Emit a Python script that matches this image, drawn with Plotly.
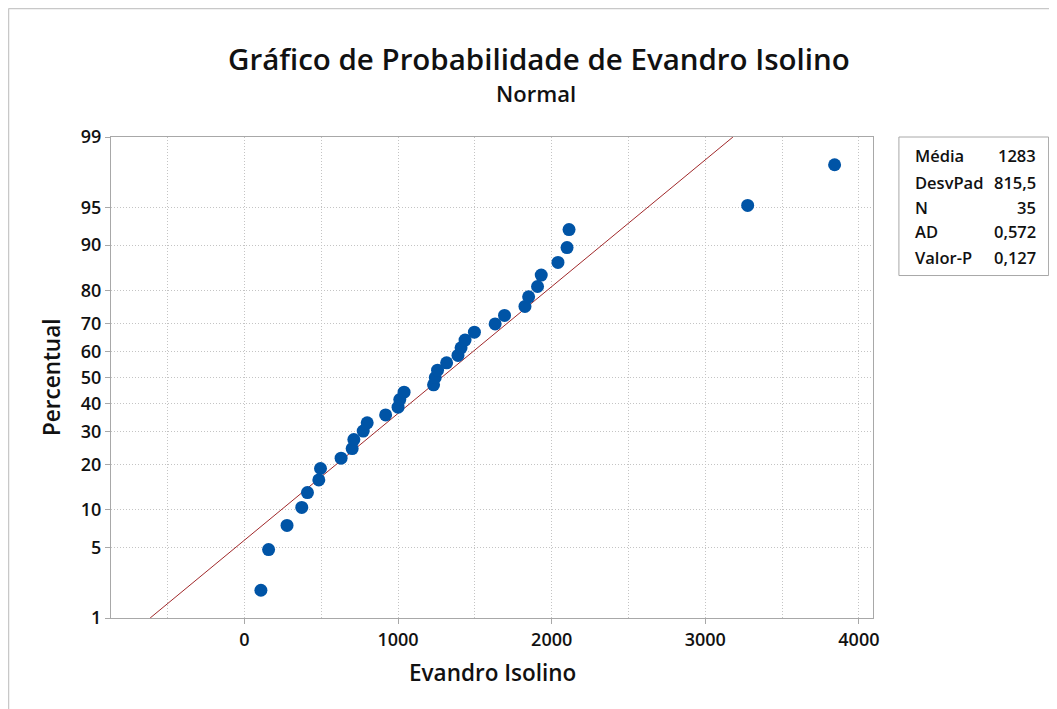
import plotly.graph_objects as go
from statistics import NormalDist

# valores (ordenados)
valores = [107, 157, 277, 373, 410, 484, 495, 629, 701, 712, 773, 799, 919, 1000, 1011,
           1039, 1231, 1242, 1257, 1316, 1390, 1410, 1436, 1497, 1632, 1693, 1826, 1850,
           1908, 1932, 2041, 2100, 2113, 3276, 3842]
# posições percentuais dos pontos
percentuais = [1.98, 4.80, 7.63, 10.45, 13.28, 16.10, 18.93, 21.75, 24.58, 27.40, 30.23,
               33.05, 35.88, 38.70, 41.53, 44.35, 47.18, 50.00, 52.82, 55.65, 58.47, 61.30,
               64.12, 66.95, 69.77, 72.60, 75.42, 78.25, 81.07, 83.90, 86.72, 89.55, 92.37,
               95.20, 98.02]

media = 1283
desvpad = 815.5
stat_nomes = ['Média', 'DesvPad', 'N', 'AD', 'Valor-P']
stat_valores = ['1283', '815,5', '35', '0,572', '0,127']

y_ticks = [1, 5, 10, 20, 30, 40, 50, 60, 70, 80, 90, 95, 99]
x_ticks = [0, 1000, 2000, 3000, 4000]

nd = NormalDist()
def z(p):
    return nd.inv_cdf(p / 100.0)

z_min, z_max = z(1), z(99)

fig = go.Figure()

# reta ajustada
fig.add_trace(go.Scatter(
    x=[media + desvpad * z_min, media + desvpad * z_max],
    y=[z_min, z_max],
    mode='lines', line=dict(color='#A0282A', width=1),
    hoverinfo='skip', showlegend=False))

fig.add_trace(go.Scatter(
    x=valores, y=[z(p) for p in percentuais],
    mode='markers', marker=dict(color='#0054A6', size=13),
    showlegend=False))

font = 'Open Sans, Noto Sans, sans-serif'
cor = '#111111'
pontilhado = '1px,2px'
grid = dict(showgrid=True, gridcolor='#c4c4c4', griddash=pontilhado, gridwidth=1)

fig.update_layout(
    width=1057, height=709,
    margin=dict(l=103, r=192, t=129, b=99),
    paper_bgcolor='white', plot_bgcolor='white',
    font=dict(family=font, color=cor),
    xaxis=dict(
        range=[-869, 4092], tickvals=x_ticks, ticktext=[str(v) for v in x_ticks],
        ticks='outside', ticklen=5, tickcolor='#a8a8a8',
        tickfont=dict(size=18, family=font, weight=600, color=cor),
        minor=dict(dtick=500, tick0=0, showgrid=True, gridcolor='#c4c4c4', griddash=pontilhado),
        showline=True, linecolor='#a8a8a8', linewidth=1, mirror=True, zeroline=False,
        **grid),
    yaxis=dict(
        range=[z_min, z_max], tickvals=[z(v) for v in y_ticks],
        ticktext=[str(v) for v in y_ticks],
        ticks='outside', ticklen=5, tickcolor='#a8a8a8',
        tickfont=dict(size=18, family=font, weight=600, color=cor),
        showline=True, linecolor='#a8a8a8', linewidth=1, mirror=True, zeroline=False,
        **grid),
)

# títulos
fig.add_annotation(xref='paper', yref='paper', x=0.5617, y=1.164,
                   text='Gráfico de Probabilidade de Evandro Isolino', showarrow=False,
                   xanchor='center', yanchor='middle',
                   font=dict(size=29.5, family=font, weight=600, color=cor))
fig.add_annotation(xref='paper', yref='paper', x=0.558, y=1.0915, text='Normal',
                   showarrow=False, xanchor='center', yanchor='middle',
                   font=dict(size=22, family=font, weight=600, color=cor))
fig.add_annotation(xref='paper', yref='paper', x=0.5, y=-0.1143, text='Evandro Isolino',
                   showarrow=False, xanchor='center', yanchor='middle',
                   font=dict(size=22.5, family=font, weight=600, color=cor))
fig.add_annotation(xref='paper', yref='paper', x=-0.0774, y=0.499, text='Percentual',
                   showarrow=False, xanchor='center', yanchor='middle', textangle=-90,
                   font=dict(size=22.5, family=font, weight=600, color=cor))

# caixa de estatísticas
fig.add_shape(type='rect', xref='paper', yref='paper', x0=1.034, x1=1.2304, y0=0.712, y1=1.0,
              line=dict(color='#a8a8a8', width=1), fillcolor='white')
linhas_y = [0.9605, 0.9044, 0.8536, 0.8025, 0.7505]
for nome, val, yy in zip(stat_nomes, stat_valores, linhas_y):
    fig.add_annotation(xref='paper', yref='paper', x=1.0525, y=yy, text=nome,
                       showarrow=False, xanchor='left', yanchor='middle',
                       font=dict(size=16.5, family=font, weight=600, color=cor))
    fig.add_annotation(xref='paper', yref='paper', x=1.2159, y=yy, text=val,
                       showarrow=False, xanchor='right', yanchor='middle',
                       font=dict(size=16.5, family=font, weight=600, color=cor))

# moldura externa (topo e esquerda)
fig.add_shape(type='line', xref='paper', yref='paper', x0=-0.1345, x1=1.26, y0=1.2672, y1=1.2672,
              line=dict(color='#c8c8c8', width=1.5))
fig.add_shape(type='line', xref='paper', yref='paper', x0=-0.1345, x1=-0.1345, y0=-0.21, y1=1.2672,
              line=dict(color='#c8c8c8', width=1.5))

fig.write_html('out.html')
